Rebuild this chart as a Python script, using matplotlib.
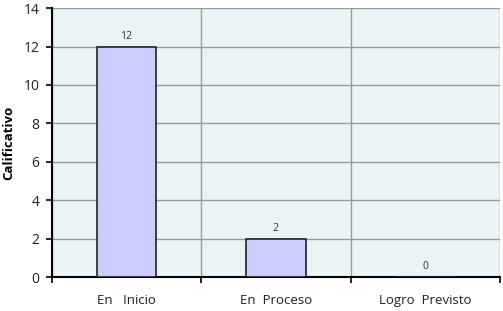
import matplotlib.pyplot as plt
import numpy as np

# --- Data ---
categories = ['En   Inicio', 'En  Proceso', 'Logro  Previsto']
values = [12, 2, 0]
y_ticks = [0, 2, 4, 6, 8, 10, 12, 14]

plt.rcParams['font.family'] = ['Open Sans', 'DejaVu Sans']

fig = plt.figure(figsize=(5.03, 3.11), dpi=100)
ax = fig.add_axes([0.103, 0.109, 0.891, 0.865])
ax.set_facecolor('#eaf4f7')

x = np.arange(len(categories))
ax.bar(x, values, width=0.4, color='#ccccff', edgecolor='#222222', linewidth=1.2, zorder=3)

for xi, v in zip(x, values):
    ax.text(xi, v + 0.25, str(v), ha='center', va='bottom', fontsize=7.5, color='#333333')

ax.set_xlim(-0.5, len(categories) - 0.5)
ax.set_ylim(0, 14)
ax.set_yticks(y_ticks)
ax.set_xticks(x)
ax.set_xticklabels(categories)
ax.set_xticks(np.arange(len(categories) + 1) - 0.5, minor=True)
ax.tick_params(axis='x', which='major', length=0, pad=12, labelsize=9.5, labelcolor='#222222')
ax.tick_params(axis='x', which='minor', length=4, width=1.2, direction='out')
ax.tick_params(axis='y', length=4, width=1.2, pad=5, labelsize=10, labelcolor='#222222')

ax.grid(axis='y', color='#999999', linewidth=1, zorder=0)
ax.grid(axis='x', which='minor', color='#999999', linewidth=1, zorder=0)

for side in ['top', 'right']:
    ax.spines[side].set_visible(False)
ax.spines['left'].set_linewidth(1.5)
ax.spines['bottom'].set_linewidth(1.5)

ax.set_ylabel('Calificativo', fontsize=9.5, fontweight='bold', labelpad=6)

fig.savefig('out.png', dpi=100)
